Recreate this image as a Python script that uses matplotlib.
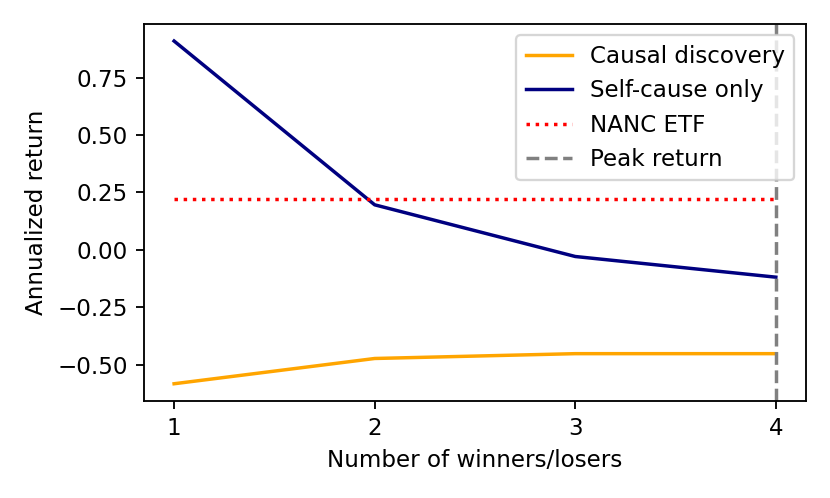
import matplotlib
matplotlib.use("Agg")
import matplotlib.pyplot as plt

n_winners = [1, 2, 3, 4]
causal_discovery = [-0.583, -0.473, -0.452, -0.452]
self_cause_only = [0.909, 0.196, -0.029, -0.119]
nanc_etf = 0.223
peak_x = 4

fig, ax = plt.subplots(figsize=(5, 3), dpi=166)
ax.plot(n_winners, causal_discovery, color="orange", label="Causal discovery")
ax.plot(n_winners, self_cause_only, color="navy", label="Self-cause only")
ax.plot(n_winners, [nanc_etf] * len(n_winners), color="red", linestyle=":", label="NANC ETF")
ax.axvline(peak_x, color="gray", linestyle="--", label="Peak return")
ax.set_xticks(n_winners)
ax.set_xlabel("Number of winners/losers")
ax.set_ylabel("Annualized return")
ax.legend(loc="upper right")
fig.subplots_adjust(left=0.1735, right=0.971, top=0.952, bottom=0.195)
fig.savefig("out.png", dpi=166)
